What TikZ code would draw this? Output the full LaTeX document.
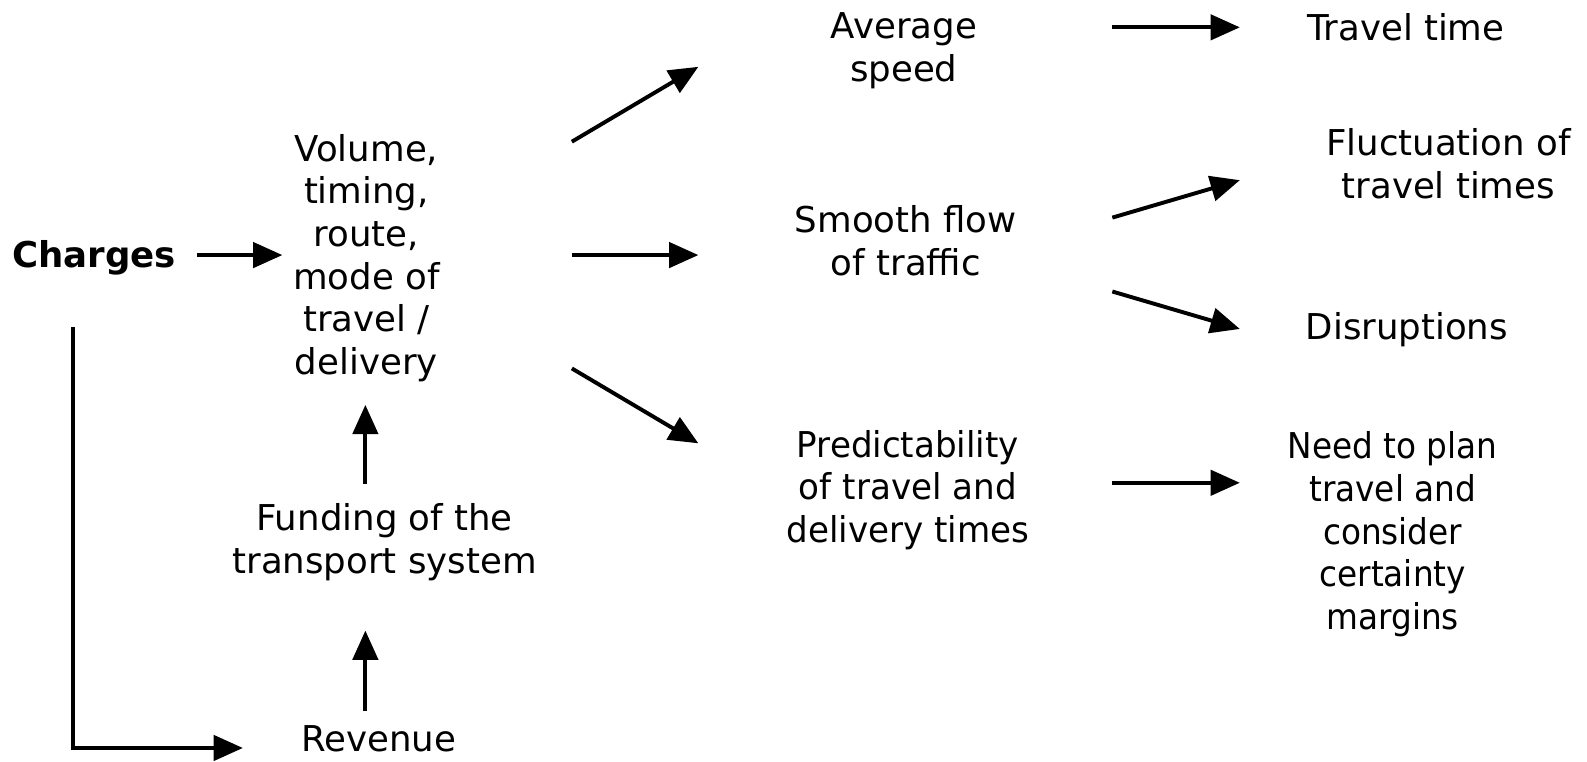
\documentclass[tikz,border=0pt]{standalone}
\usepackage{fontspec}
\setmainfont{DejaVu Sans}
\newfontfamily\narrowfont[FakeStretch=0.92]{DejaVu Sans}
\newfontfamily\semifont[FakeStretch=0.96]{DejaVu Sans}
\usetikzlibrary{arrows.meta}
\begin{document}
\begin{tikzpicture}[x=0.02cm,y=-0.02cm,
  lbl/.style={align=center, font=\fontsize{20}{24}\selectfont, inner sep=0pt},
  nlbl/.style={align=center, font=\narrowfont\fontsize{20}{24}\selectfont, inner sep=0pt},
  slbl/.style={align=center, font=\semifont\fontsize{20}{24}\selectfont, inner sep=0pt},
  arr/.style={-{Triangle[length=0.58cm,width=0.5cm]}, line width=2.2pt}]
\useasboundingbox (0,0) rectangle (1568,752);
% nodes
\node[lbl] (charges) at (93,255) {\bfseries Charges};
\node[lbl] (vol) at (362,255) {Volume,\\timing,\\route,\\mode of\\travel /\\delivery};
\node[lbl] (fund) at (380,536) {Funding of the\\transport system};
\node[lbl] (rev) at (374,730) {Revenue};
\node[lbl] (avg) at (893,50) {Average\\speed};
\node[lbl] (smooth) at (895,238) {Smooth flow\\of traffic};
\node[slbl] (pred) at (897,484) {Predictability\\of travel and\\delivery times};
\node[lbl] (tt) at (1389,27) {Travel time};
\node[lbl] (fluc) at (1431,162) {Fluctuation of\\travel times};
\node[lbl] (dis) at (1390,326) {Disruptions};
\node[nlbl] (need) at (1376,528) {Need to plan\\travel and\\consider\\certainty\\margins};
% arrow end points
\coordinate (c1s) at (195,252); \coordinate (c1e) at (279,252);
\coordinate (lt) at (72,323); \coordinate (lb) at (72,739); \coordinate (le) at (240,739);
\coordinate (u1s) at (361,478); \coordinate (u1e) at (361,400);
\coordinate (u2s) at (361,702); \coordinate (u2e) at (361,623);
\coordinate (a1s) at (565,140); \coordinate (a1e) at (690,66);
\coordinate (a2s) at (565,252); \coordinate (a2e) at (690,252);
\coordinate (a3s) at (565,364); \coordinate (a3e) at (690,438);
\coordinate (b1s) at (1099,27); \coordinate (b1e) at (1225,27);
\coordinate (b2s) at (1099,215); \coordinate (b2e) at (1225,178);
\coordinate (b3s) at (1099,288); \coordinate (b3e) at (1225,325);
\coordinate (b4s) at (1099,477); \coordinate (b4e) at (1225,477);
% connectors
\draw[arr] (c1s) -- (c1e);
\draw[arr] (lt) -- (lb) -- (le);
\draw[arr] (u1s) -- (u1e);
\draw[arr] (u2s) -- (u2e);
\draw[arr] (a1s) -- (a1e);
\draw[arr] (a2s) -- (a2e);
\draw[arr] (a3s) -- (a3e);
\draw[arr] (b1s) -- (b1e);
\draw[arr] (b2s) -- (b2e);
\draw[arr] (b3s) -- (b3e);
\draw[arr] (b4s) -- (b4e);
\end{tikzpicture}
\end{document}
